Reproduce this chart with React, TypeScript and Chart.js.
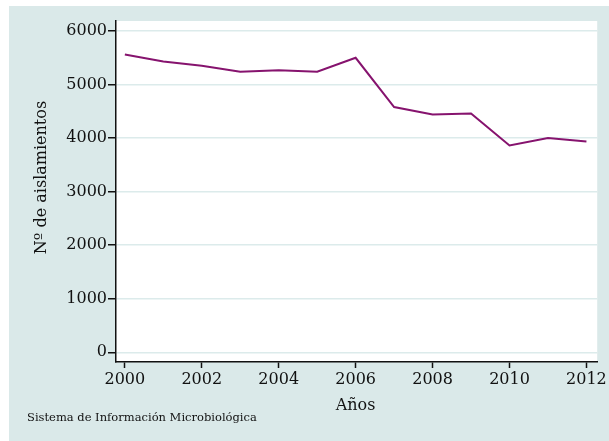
import React, { useEffect, useRef } from "react";
import { Chart, registerables } from "chart.js";

Chart.register(...registerables);

const years = [2000, 2001, 2002, 2003, 2004, 2005, 2006, 2007, 2008, 2009, 2010, 2011, 2012];
const isolates = [5560, 5430, 5350, 5240, 5265, 5240, 5500, 4580, 4440, 4460, 3862, 4000, 3937];
const xTicks = [2000, 2002, 2004, 2006, 2008, 2010, 2012];
const yTicks = [0, 1000, 2000, 3000, 4000, 5000, 6000];
const xTitle = "Años";
const yTitle = "Nº de aislamientos";
const footnote = "Sistema de Información Microbiológica";

const BG = "#dae9e9";
const GRID = "#dcebeb";
const LINE = "#86136e";
const FONT = "'DejaVu Serif', serif";

export default function App() {
  const ref = useRef<HTMLCanvasElement | null>(null);

  useEffect(() => {
    const canvas = ref.current;
    if (!canvas) return;

    const decor = {
      id: "decor",
      beforeDraw(chart: any) {
        const { ctx, chartArea } = chart;
        ctx.save();
        ctx.fillStyle = BG;
        ctx.fillRect(0, 0, chart.width, chart.height);
        ctx.fillStyle = "#ffffff";
        ctx.fillRect(chartArea.left, chartArea.top, chartArea.right - chartArea.left, chartArea.bottom - chartArea.top);
        ctx.restore();
      },
      afterDraw(chart: any) {
        const { ctx } = chart;
        ctx.save();
        ctx.fillStyle = "#111111";
        ctx.font = `16px ${FONT}`;
        ctx.textAlign = "center";
        ctx.textBaseline = "alphabetic";
        ctx.fillText(xTitle, 346.5, 403.5);
        ctx.save();
        ctx.translate(36.5, 171.5);
        ctx.rotate(-Math.PI / 2);
        ctx.fillText(yTitle, 0, 0);
        ctx.restore();
        ctx.font = `11.5px ${FONT}`;
        ctx.textAlign = "left";
        ctx.fillText(footnote, 18, 414.5);
        ctx.restore();
      },
    };

    const chart = new Chart(canvas, {
      type: "line",
      data: {
        datasets: [
          {
            data: years.map((y, i) => ({ x: y, y: isolates[i] })),
            borderColor: LINE,
            borderWidth: 2,
            pointRadius: 0,
            fill: false,
            tension: 0,
          },
        ],
      },
      options: {
        responsive: false,
        animation: false,
        layout: { padding: { left: 0, top: 15, right: 9, bottom: 0 } },
        plugins: { legend: { display: false }, tooltip: { enabled: false } },
        scales: {
          x: {
            type: "linear",
            min: 1999.77,
            max: 2012.28,
            afterBuildTicks: (s: any) => {
              s.ticks = xTicks.map((v) => ({ value: v }));
            },
            afterFit: (s: any) => {
              s.height = 79;
            },
            grid: { drawOnChartArea: false, tickLength: 6, tickColor: "#111111", tickWidth: 1.5 },
            border: { color: "#111111", width: 1.5 },
            ticks: {
              color: "#111111",
              font: { family: FONT, size: 16 },
              padding: 2,
              maxRotation: 0,
              callback: (v: any) => String(v),
            },
          },
          y: {
            type: "linear",
            min: -181,
            max: 6187,
            afterBuildTicks: (s: any) => {
              s.ticks = yTicks.map((v) => ({ value: v }));
            },
            afterFit: (s: any) => {
              s.width = 107;
            },
            grid: { color: GRID, lineWidth: 1.5, tickLength: 8, tickColor: "#111111", tickWidth: 1.5 },
            border: { color: "#111111", width: 1.5 },
            ticks: {
              color: "#111111",
              font: { family: FONT, size: 16 },
              padding: 1,
              callback: (v: any) => String(v),
            },
          },
        },
      },
      plugins: [decor],
    });
    return () => chart.destroy();
  }, []);

  return (
    <div style={{ position: "fixed", left: 9, top: 6, width: 600, height: 435 }}>
      <canvas ref={ref} width={600} height={435} style={{ display: "block", width: 600, height: 435 }} />
    </div>
  );
}
